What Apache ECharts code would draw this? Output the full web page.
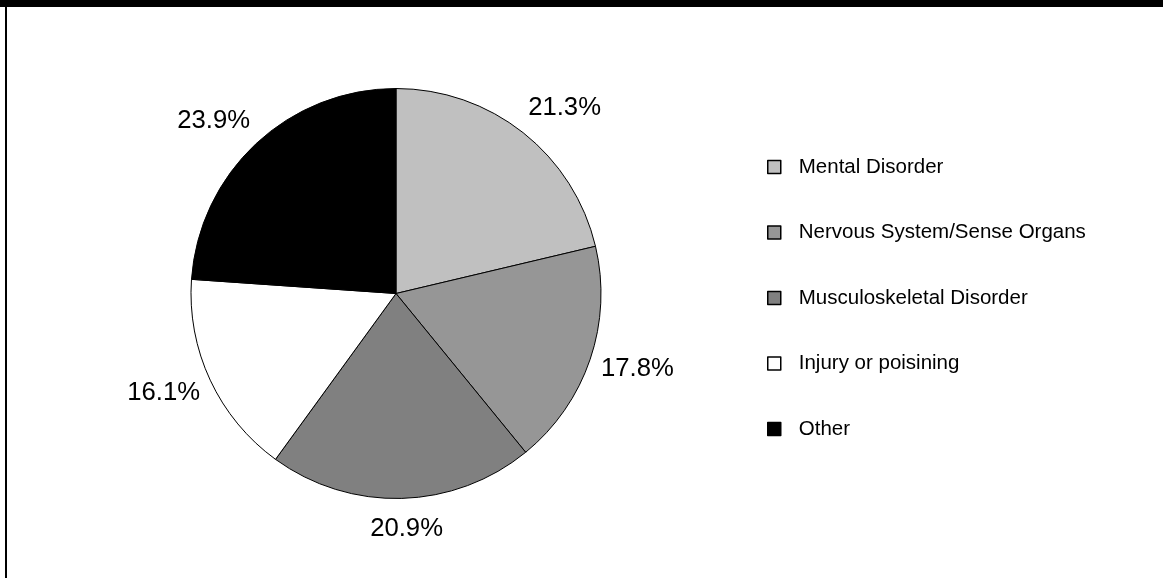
<!DOCTYPE html>
<html>
<head>
<meta charset="utf-8">
<script src="https://cdn.jsdelivr.net/npm/echarts@6/dist/echarts.min.js"></script>
<style>
  html, body { margin: 0; padding: 0; background: #fff; }
  #chart { width: 1163px; height: 578px; }
</style>
</head>
<body>
<div id="chart"></div>
<script>
const categories = ['Mental Disorder', 'Nervous System/Sense Organs', 'Musculoskeletal Disorder', 'Injury or poisining', 'Other'];
const values = [21.3, 17.8, 20.9, 16.1, 23.9];
const colors = ['#c0c0c0', '#969696', '#808080', '#ffffff', '#000000'];

const CX = 396, CY = 293.5, R = 205;
const FONT = '"Liberation Sans", Arial, sans-serif';
const LABEL_SIZE = 25.7;

const total = values.reduce((a, b) => a + b, 0);
const midAngles = [];
let acc = 0;
values.forEach(v => { midAngles.push((acc + v / 2) / total * 2 * Math.PI); acc += v; });

const clamp = v => Math.max(-1, Math.min(1, v));

const chart = echarts.init(document.getElementById('chart'), null, { renderer: 'canvas' });
chart.setOption({
  backgroundColor: '#ffffff',
  animation: false,
  graphic: [
    { type: 'rect', shape: { x: 0, y: 0, width: 1163, height: 7 }, style: { fill: '#000' }, silent: true },
    { type: 'rect', shape: { x: 5, y: 0, width: 2, height: 578 }, style: { fill: '#000' }, silent: true }
  ],
  legend: {
    orient: 'vertical',
    left: 767,
    top: 156.5,
    padding: 0,
    icon: 'rect',
    itemWidth: 13,
    itemHeight: 13,
    itemGap: 44.5,
    itemStyle: { borderColor: '#000', borderWidth: 1.5 },
    textStyle: { fontFamily: FONT, fontSize: 20.5, color: '#000', lineHeight: 21, padding: [0, 0, 0, 13] },
    data: categories,
    selectedMode: false
  },
  series: [{
    type: 'pie',
    center: [CX, CY],
    radius: R,
    startAngle: 90,
    clockwise: true,
    avoidLabelOverlap: false,
    data: categories.map((c, i) => ({ name: c, value: values[i], itemStyle: { color: colors[i] } })),
    itemStyle: { borderColor: '#000', borderWidth: 1 },
    label: {
      show: true,
      position: 'outside',
      formatter: p => values[p.dataIndex].toFixed(1) + '%',
      fontFamily: FONT,
      fontSize: LABEL_SIZE,
      color: '#000'
    },
    labelLine: { show: false },
    emphasis: { disabled: true },
    labelLayout: function (params) {
      const a = midAngles[params.dataIndex];
      const ux = Math.sin(a), uy = -Math.cos(a);
      const w = params.labelRect.width / 2;
      return {
        x: CX + ux * (R + 18) + 0.83 * w * clamp(ux * 5),
        y: CY + uy * (R + 31),
        align: 'center',
        verticalAlign: 'middle'
      };
    }
  }]
});
</script>
</body>
</html>
